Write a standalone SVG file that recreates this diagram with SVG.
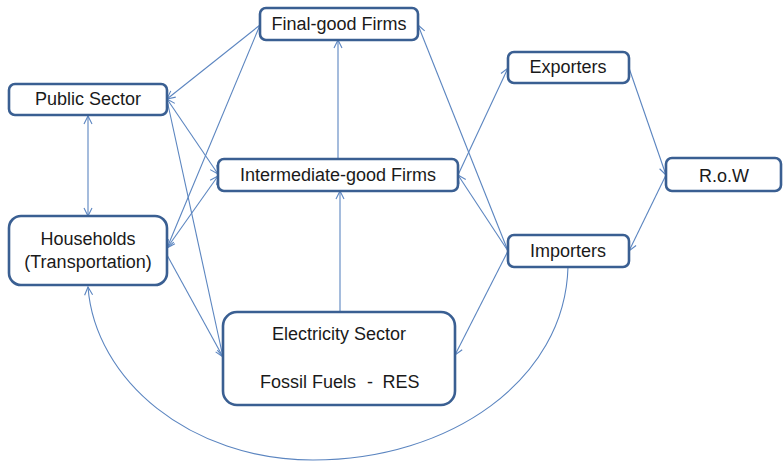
<svg xmlns="http://www.w3.org/2000/svg" width="783" height="462" viewBox="0 0 783 462">
  <defs>
    <marker id="arrow" markerUnits="userSpaceOnUse" markerWidth="12" markerHeight="12" refX="9" refY="5" orient="auto-start-reverse" viewBox="0 0 12 10">
      <path d="M1,1 L9,5 L1,9" fill="none" stroke="#5b85c0" stroke-width="1.1"/>
    </marker>
  </defs>
  <style>
    .box { fill: #ffffff; stroke: #3a5f92; stroke-width: 2.6; }
    .lbl { font-family: "Liberation Sans", Arial, sans-serif; font-size: 18px; fill: #1a1a1a; text-anchor: middle; }
    .edge { fill: none; stroke: #5b85c0; stroke-width: 1.1; }
    .end { marker-end: url(#arrow); }
    .both { marker-start: url(#arrow); marker-end: url(#arrow); }
  </style>
  <rect width="783" height="462" fill="#ffffff"/>

  <g id="connectors">
    <line class="edge end" x1="260" y1="25" x2="167" y2="99"/>
    <line class="edge end" x1="260" y1="25" x2="167" y2="248"/>
    <line class="edge both" x1="167" y1="99" x2="218" y2="174"/>
    <line class="edge both" x1="167" y1="248" x2="218" y2="176"/>
    <line class="edge end" x1="167" y1="100" x2="223" y2="357"/>
    <line class="edge end" x1="167" y1="255" x2="223" y2="357"/>
    <line class="edge end" x1="338" y1="159" x2="338" y2="40"/>
    <line class="edge end" x1="340" y1="312" x2="340" y2="191"/>
    <line class="edge end" x1="508" y1="251" x2="418" y2="25"/>
    <line class="edge end" x1="508" y1="251" x2="458" y2="175"/>
    <line class="edge end" x1="458" y1="175" x2="508" y2="68"/>
    <line class="edge end" x1="508" y1="251" x2="455" y2="355"/>
    <line class="edge end" x1="629" y1="68" x2="666" y2="175"/>
    <line class="edge end" x1="666" y1="175" x2="629" y2="251"/>
    <line class="edge both" x1="88" y1="116" x2="88" y2="216"/>
    <path class="edge end" d="M568,267 C565,380 450,460 313,460 C190,460 95,380 88,287"/>
  </g>

  <g id="final-good">
    <rect class="box" x="260" y="8" width="158" height="32" rx="6"/>
    <text class="lbl" x="339" y="30">Final-good Firms</text>
  </g>
  <g id="public-sector">
    <rect class="box" x="9" y="84" width="158" height="31" rx="6"/>
    <text class="lbl" x="88" y="105">Public Sector</text>
  </g>
  <g id="intermediate-good">
    <rect class="box" x="218" y="159" width="240" height="32" rx="6"/>
    <text class="lbl" x="338" y="181">Intermediate-good Firms</text>
  </g>
  <g id="households">
    <rect class="box" x="9" y="216" width="158" height="69" rx="12"/>
    <text class="lbl" x="88" y="245">Households</text>
    <text class="lbl" x="88" y="268">(Transportation)</text>
  </g>
  <g id="electricity">
    <rect class="box" x="223" y="312" width="232" height="93" rx="14"/>
    <text class="lbl" x="339" y="340">Electricity Sector</text>
    <text class="lbl" y="388"><tspan x="308">Fossil Fuels</tspan><tspan x="370">-</tspan><tspan x="401">RES</tspan></text>
  </g>
  <g id="exporters">
    <rect class="box" x="508" y="52" width="121" height="31" rx="6"/>
    <text class="lbl" x="568" y="73">Exporters</text>
  </g>
  <g id="row">
    <rect class="box" x="666" y="158" width="115" height="33" rx="6"/>
    <text class="lbl" x="724" y="182">R.o.W</text>
  </g>
  <g id="importers">
    <rect class="box" x="508" y="235" width="121" height="32" rx="6"/>
    <text class="lbl" x="568" y="257">Importers</text>
  </g>
</svg>
